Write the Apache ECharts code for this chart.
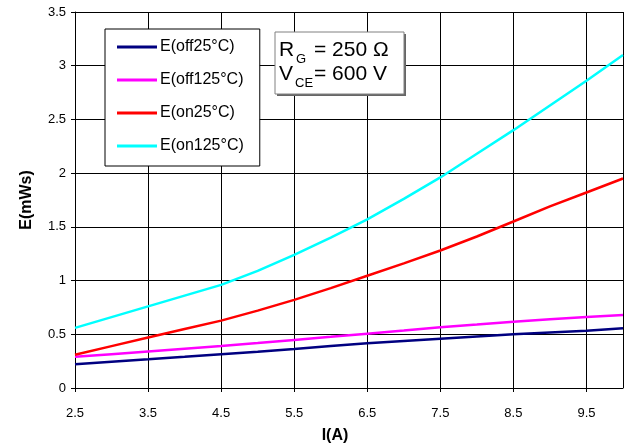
<!DOCTYPE html>
<html><head><meta charset="utf-8">
<script src="https://cdn.jsdelivr.net/npm/echarts@6/dist/echarts.min.js"></script>
<style>html,body{margin:0;padding:0;background:#fff}#c{width:631px;height:446px}</style>
</head><body><div id="c"></div>
<script>
const currents = [2.5, 3, 3.5, 4, 4.5, 5, 5.5, 6, 6.5, 7, 7.5, 8, 8.5, 9, 9.5, 10];
const seriesNames = ['E(off25°C)', 'E(off125°C)', 'E(on25°C)', 'E(on125°C)'];
const eOff25 = [0.22, 0.245, 0.267, 0.29, 0.314, 0.338, 0.363, 0.39, 0.416, 0.438, 0.459, 0.48, 0.50, 0.517, 0.533, 0.556];
const eOff125 = [0.29, 0.315, 0.34, 0.365, 0.39, 0.418, 0.447, 0.476, 0.506, 0.535, 0.565, 0.59, 0.617, 0.64, 0.66, 0.68];
const eOn25 = [0.31, 0.39, 0.47, 0.55, 0.627, 0.72, 0.82, 0.93, 1.045, 1.16, 1.28, 1.41, 1.55, 1.69, 1.82, 1.95];
const eOn125 = [0.56, 0.66, 0.76, 0.86, 0.96, 1.09, 1.24, 1.40, 1.57, 1.76, 1.96, 2.18, 2.40, 2.63, 2.86, 3.10];
const colors = ['#000080', '#FF00FF', '#FF0000', '#00FFFF'];
const allValues = [eOff25, eOff125, eOn25, eOn125];

const chart = echarts.init(document.getElementById('c'));
const FONT = '"Liberation Sans", Arial, sans-serif';
chart.setOption({
  animation: false,
  textStyle: { fontFamily: FONT },
  grid: { left: 75, right: 8, top: 12, bottom: 58, containLabel: false, outerBoundsMode: 'none' },
  xAxis: {
    type: 'value', min: 2.5, max: 10, interval: 1,
    name: 'I(A)', nameLocation: 'middle', nameGap: 40,
    nameTextStyle: { fontSize: 16, fontWeight: 'bold', color: '#000', fontFamily: FONT, padding: [0, 28, 0, 0] },
    axisLine: { lineStyle: { color: '#000', width: 1 } },
    axisTick: { show: true, length: 4, lineStyle: { color: '#000' } },
    axisLabel: { color: '#000', fontSize: 13, margin: 19, fontFamily: FONT, showMaxLabel: false,
      formatter: v => (v >= 10 ? '' : v.toFixed(1)) },
    splitLine: { show: true, lineStyle: { color: '#000', width: 1 } }
  },
  yAxis: {
    type: 'value', min: 0, max: 3.5, interval: 0.5,
    name: 'E(mWs)', nameLocation: 'middle', nameGap: 40, nameRotate: 90,
    nameTextStyle: { fontSize: 16, fontWeight: 'bold', color: '#000', fontFamily: FONT },
    axisLine: { show: true, lineStyle: { color: '#000', width: 1 } },
    axisTick: { show: true, length: 4, lineStyle: { color: '#000' } },
    axisLabel: { color: '#000', fontSize: 13, margin: 9, fontFamily: FONT },
    splitLine: { show: true, lineStyle: { color: '#000', width: 1 } }
  },
  legend: {
    orient: 'vertical', left: 105, top: 29,
    padding: [10, 16, 12, 12],
    itemWidth: 40, itemHeight: 3, itemGap: 17,
    icon: 'rect',
    backgroundColor: '#fff', borderColor: '#000', borderWidth: 1,
    textStyle: { fontSize: 16, color: '#000', fontFamily: FONT, padding: [0, 0, 0, -2] },
    data: seriesNames
  },
  series: seriesNames.map((n, i) => ({
    name: n, type: 'line', symbol: 'none', z: 3,
    lineStyle: { color: colors[i], width: 2.5 },
    itemStyle: { color: colors[i] },
    data: currents.map((x, j) => [x, allValues[i][j]])
  })),
  graphic: [
    { type: 'rect', shape: { x: 277, y: 34, width: 129, height: 62 }, style: { fill: '#666' }, z: 10 },
    { type: 'rect', shape: { x: 275, y: 32, width: 129, height: 62 }, style: { fill: '#fff', stroke: '#808080', lineWidth: 1 }, z: 11 },
    { type: 'text', x: 279, y: 50, style: { text: 'R', font: '21px ' + FONT, fill: '#000', verticalAlign: 'middle' }, z: 12 },
    { type: 'text', x: 296, y: 59, style: { text: 'G', font: '13px ' + FONT, fill: '#000', verticalAlign: 'middle' }, z: 12 },
    { type: 'text', x: 314, y: 50, style: { text: '= 250 Ω', font: '21px ' + FONT, fill: '#000', verticalAlign: 'middle' }, z: 12 },
    { type: 'text', x: 279, y: 74, style: { text: 'V', font: '21px ' + FONT, fill: '#000', verticalAlign: 'middle' }, z: 12 },
    { type: 'text', x: 295, y: 83, style: { text: 'CE', font: '13px ' + FONT, fill: '#000', verticalAlign: 'middle' }, z: 12 },
    { type: 'text', x: 314, y: 74, style: { text: '= 600 V', font: '21px ' + FONT, fill: '#000', verticalAlign: 'middle' }, z: 12 }
  ]
});
</script></body></html>
